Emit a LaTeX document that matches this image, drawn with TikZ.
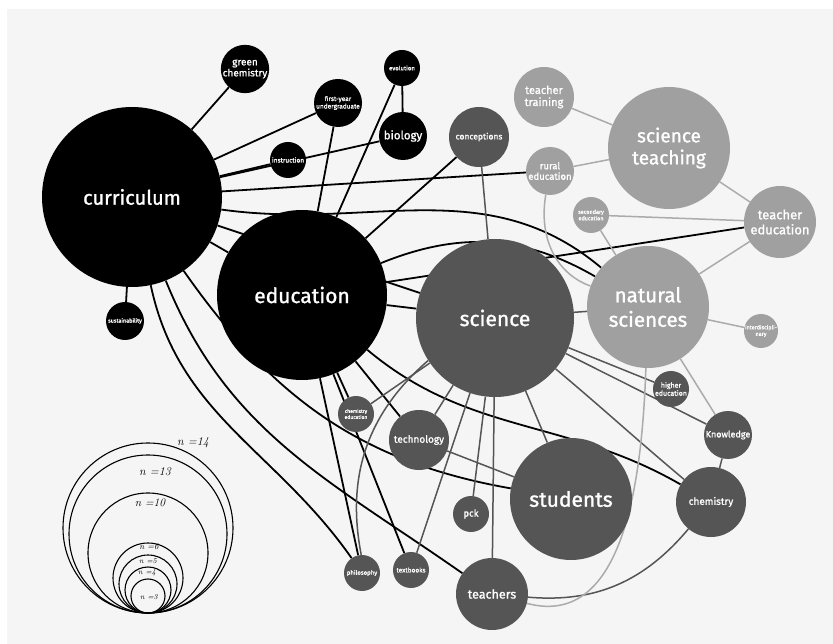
\documentclass[tikz,border=0pt]{standalone}
\usepackage{fontspec}
\newfontfamily\labelfont{Fira Sans}[FakeBold=1.2]
\usepackage{tikz}

\definecolor{dkgray}{HTML}{555555}
\definecolor{ltgray}{HTML}{A0A0A0}
\definecolor{ltlinecol}{HTML}{ABABAB}
\definecolor{paper}{HTML}{F5F5F5}

\pgfdeclarelayer{bg}
\pgfdeclarelayer{edges}
\pgfsetlayers{bg,edges,main}

\tikzset{
  topic/.style={circle, inner sep=0pt, text=white, align=center, minimum size=#1},
  blk/.style={topic=#1, fill=black},
  dk/.style={topic=#1, fill=dkgray},
  lt/.style={topic=#1, fill=ltgray},
  fs/.style={font=\labelfont\fontsize{#1}{#1}\selectfont},
  blkline/.style={line width=1.8pt, black},
  dkline/.style={line width=1.5pt, dkgray},
  ltline/.style={line width=1.5pt, ltlinecol},
  ring/.style={line width=1.1pt, black},
}

\begin{document}
\begin{tikzpicture}[x=1pt,y=-1pt]
\useasboundingbox (0,0) rectangle (833,644);
\begin{pgfonlayer}{bg}
\fill[white] (0,0) rectangle (833,644);
\fill[paper] (7,9) rectangle (833,644);
\end{pgfonlayer}

% black topics
\node[blk=180, fs=20] (curriculum) at (132,197) {curriculum};
\node[blk=170, fs=21] (education) at (302,295) {education};
\node[blk=48, fs=10] (greenchem) at (245,69) {green\\[1pt]chemistry};
\node[blk=48, fs=6.5] (firstyear) at (338,103) {first-year\\[1pt]undergraduate};
\node[blk=36, fs=6] (evolution) at (402,68) {evolution};
\node[blk=48, fs=11.5] (biology) at (403,136) {biology};
\node[blk=36, fs=6.5] (instruction) at (288,160) {instruction};
\node[blk=38, fs=5.5] (sustain) at (125,321) {sustainability};

% dark grey topics
\node[dk=158, fs=21] (science) at (495,318) {science};
\node[dk=60, fs=8.5] (conceptions) at (479,137) {conceptions};
\node[dk=36, fs=5] (chemed) at (356,414) {chemistry\\[1pt]education};
\node[dk=60, fs=10] (technology) at (419,440) {technology};
\node[dk=36, fs=9.5] (pck) at (471,514) {pck};
\node[dk=36, fs=6.5] (textbooks) at (411,570) {textbooks};
\node[dk=36, fs=6] (philosophy) at (362,573) {philosophy};
\node[dk=72, fs=12.5] (teachers) at (492,594) {teachers};
\node[dk=122, fs=21] (students) at (571,499) {students};
\node[dk=70, fs=10] (chemistry) at (711,502) {chemistry};
\node[dk=48, fs=9] (knowledge) at (728,435) {Knowledge};
\node[dk=36, fs=7] (highered) at (671,389) {higher\\[1pt]education};

% light grey topics
\node[lt=122, fs=20.5] (natsci) at (648,307) {natural\\[4pt]sciences};
\node[lt=122, fs=19] (sciteach) at (669,148) {science\\[3pt]teaching};
\node[lt=60, fs=11] (training) at (544,97) {teacher\\[1pt]training};
\node[lt=48, fs=9.5] (rural) at (550,171) {rural\\[1pt]education};
\node[lt=72, fs=13] (teachered) at (780,222) {teacher\\[2pt]education};
\node[lt=36, fs=5.5] (secondary) at (591,215) {secondary\\[1pt]education};
\node[lt=34, fs=5.5] (interdisc) at (761,331) {interdiscipli-\\[1pt]nary};

\begin{pgfonlayer}{edges}
% curriculum
\draw[blkline] (curriculum) -- (greenchem);
\draw[blkline] (curriculum) -- (biology);
\draw[blkline] (curriculum) -- (firstyear);
\draw[blkline] (curriculum) -- (instruction);
\draw[blkline] (curriculum) -- (sustain);
\draw[blkline] (curriculum) -- (education);
\draw[blkline] (curriculum) -- (rural);
\draw[blkline] (curriculum) -- (science);
\draw[blkline] (curriculum) to[out=-8,in=140] (natsci);
\draw[blkline] (curriculum) to[out=-55,in=170] (students);
\draw[blkline] (curriculum) to[out=-68,in=145] (teachers);
\draw[blkline] (curriculum) to[out=-78,in=125] (philosophy);
% education
\draw[blkline] (education) -- (firstyear);
\draw[blkline] (education) -- (evolution);
\draw[blkline] (evolution) -- (biology);
\draw[blkline] (education) -- (conceptions);
\draw[blkline] (education) -- (science);
\draw[blkline] (education) -- (teachered);
\draw[blkline] (education) to[out=22,in=150] (natsci);
\draw[blkline] (education) -- (chemed);
\draw[blkline] (education) -- (technology);
\draw[blkline] (education) -- (textbooks);
\draw[blkline] (education) -- (philosophy);
\draw[blkline] (education) to[out=-40,in=150] (chemistry);
% science
\draw[dkline] (science) -- (conceptions);
\draw[dkline] (science) -- (chemed);
\draw[dkline] (science) -- (technology);
\draw[dkline] (science) to[bend right=30] (philosophy);
\draw[dkline] (science) -- (textbooks);
\draw[dkline] (science) -- (pck);
\draw[dkline] (science) -- (teachers);
\draw[dkline] (science) -- (students);
\draw[dkline] (science) -- (natsci);
\draw[dkline] (science) -- (highered);
\draw[dkline] (science) -- (knowledge);
\draw[dkline] (science) to[out=-40,in=140] (chemistry);
\draw[dkline] (technology) -- (students);
\draw[dkline] (chemistry) -- (knowledge);
\draw[dkline] (chemistry) to[out=-130,in=-5] (teachers);
% natural sciences
\draw[ltline] (natsci) -- (teachered);
\draw[ltline] (natsci) -- (interdisc);
\draw[ltline] (natsci) -- (secondary);
\draw[ltline] (natsci) -- (knowledge);
\draw[ltline] (natsci) to[out=-92,in=-15] (teachers);
\draw[ltline] (rural) to[out=-100,in=160] (natsci);
\draw[ltline] (rural) -- (sciteach);
\draw[ltline] (training) -- (sciteach);
\draw[ltline] (sciteach) -- (teachered);
\draw[ltline] (secondary) -- (teachered);
\end{pgfonlayer}

% size legend
\foreach \r/\lab/\lx/\ly/\sz in {85/14/193/443/12, 79/13/155/472/12, 60/10/150/503/11.5,
    35/6/149/547/8.5, 29/5/148/561/7.5, 23/4/147/573/7.5, 17/3/149/597/7.5}{
  \draw[ring] (148,613-\r) circle[radius=\r pt];
  \node[font=\fontsize{\sz}{\sz}\selectfont\itshape] (n\lab) at (\lx,\ly) {n =\lab};
}
\end{tikzpicture}
\end{document}
